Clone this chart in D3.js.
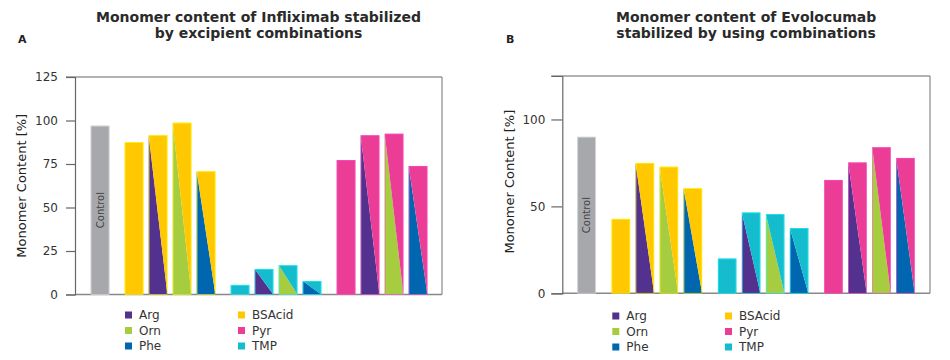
<!DOCTYPE html>
<html>
<head>
<meta charset="utf-8">
<script src="https://cdn.jsdelivr.net/npm/d3@7"></script>
<style>
  body { margin: 0; background: #fff; }
  svg { display: block; font-family: "DejaVu Sans", Verdana, sans-serif; }
</style>
</head>
<body>
<svg id="chart" width="950" height="360"></svg>
<script>
// ---- data ----
const categories = ["Control","BSAcid","Arg+BSAcid","Orn+BSAcid","Phe+BSAcid","TMP","Arg+TMP","Orn+TMP","Phe+TMP","Pyr","Arg+Pyr","Orn+Pyr","Phe+Pyr"];
const groupOf   = [0,1,1,1,1,2,2,2,2,3,3,3,3];
const baseComp  = ["Control","BSAcid","BSAcid","BSAcid","BSAcid","TMP","TMP","TMP","TMP","Pyr","Pyr","Pyr","Pyr"];
const addComp   = [null,null,"Arg","Orn","Phe",null,"Arg","Orn","Phe",null,"Arg","Orn","Phe"];
const valuesInfliximab = [97, 87.5, 91.5, 98.7, 70.8, 5.5, 14.7, 16.8, 7.8, 77.3, 91.5, 92.4, 73.9];
const valuesEvolocumab = [90, 42.8, 75, 72.8, 60.5, 20, 46.5, 45.6, 37.5, 65.2, 75.3, 84, 77.9];
const ticksA = [0, 25, 50, 75, 100, 125];
const ticksB = [0, 50, 100];
const legendCol1 = ["Arg","Orn","Phe"];
const legendCol2 = ["BSAcid","Pyr","TMP"];
const titleA = ["Monomer content of Infliximab stabilized", "by excipient combinations"];
const titleB = ["Monomer content of Evolocumab", "stabilized by using combinations"];

const colors = {
  Control: "#a7a8ab", Arg: "#52318f", Orn: "#a6cd40", Phe: "#0066b0",
  BSAcid: "#ffc800", Pyr: "#eb3d96", TMP: "#15bccd"
};

const svg = d3.select("#chart");

function panel(cfg) {
  const g = svg.append("g");
  const y = d3.scaleLinear().domain([0, 125]).range([cfg.bottom, cfg.top]);
  const step = 24, bw = cfg.bw;
  const pIn = 1 - bw / step;
  const x = d3.scaleBand().domain(categories)
    .range([cfg.barStart, cfg.barStart + step * (categories.length - pIn)])
    .paddingInner(pIn).paddingOuter(0);
  const xPos = (c, i) => x(c) + groupOf[i] * cfg.gap;

  // frame
  g.append("line").attr("x1", cfg.left - cfg.tick).attr("x2", cfg.right)
    .attr("y1", cfg.top).attr("y2", cfg.top).attr("stroke", "#666").attr("stroke-width", 1.2);
  g.append("line").attr("x1", cfg.right).attr("x2", cfg.right)
    .attr("y1", cfg.top).attr("y2", cfg.bottom).attr("stroke", "#888").attr("stroke-width", 1.2);
  g.append("line").attr("x1", cfg.left).attr("x2", cfg.right)
    .attr("y1", cfg.bottom).attr("y2", cfg.bottom).attr("stroke", "#888").attr("stroke-width", 1.4);

  // y axis
  const axis = d3.axisLeft(y).tickValues(cfg.ticks).tickSize(cfg.tick).tickPadding(cfg.tickPad);
  const ag = g.append("g").attr("transform", `translate(${cfg.left},0)`).call(axis);
  ag.select(".domain").attr("stroke", "#666").attr("stroke-width", 1.2);
  ag.selectAll(".tick line").attr("stroke", "#666").attr("stroke-width", 1.2);
  ag.selectAll(".tick text").attr("fill", "#333").style("font-size", "12px")
    .style("font-family", "DejaVu Sans, Verdana, sans-serif");

  // y title
  g.append("text").attr("transform", `translate(${cfg.yTitleX},${(cfg.top + cfg.bottom) / 2 + cfg.yTitleDy}) rotate(-90)`)
    .attr("text-anchor", "middle").attr("dominant-baseline", "central")
    .attr("fill", "#222").style("font-size", "13px").text("Monomer Content [%]");

  // bars
  categories.forEach((c, i) => {
    const v = cfg.values[i];
    const x0 = xPos(c, i), x1 = x0 + x.bandwidth();
    const yt = y(v), yb = y(0);
    const main = colors[baseComp[i]];
    if (addComp[i]) {
      g.append("polygon").attr("points", `${x0},${yt} ${x0},${yb} ${x1},${yb}`)
        .attr("fill", colors[addComp[i]]);
      g.append("polygon").attr("points", `${x0},${yt} ${x1},${yt} ${x1},${yb}`)
        .attr("fill", main);
    } else {
      g.append("rect").attr("x", x0).attr("y", yt).attr("width", x1 - x0).attr("height", yb - yt)
        .attr("fill", main);
    }
    g.append("rect").attr("x", x0 + 0.4).attr("y", yt + 0.4).attr("width", x1 - x0 - 0.8).attr("height", yb - yt - 0.4)
      .attr("fill", "none").attr("stroke", d3.color(main).brighter(0.9)).attr("stroke-width", 0.8).attr("stroke-opacity", 0.7);
    if (c === "Control") {
      g.append("text")
        .attr("transform", `translate(${(x0 + x1) / 2},${(yt + yb) / 2}) rotate(-90)`)
        .attr("text-anchor", "middle").attr("dominant-baseline", "central")
        .attr("fill", "#444").style("font-size", "10px").text("Control");
    }
  });

  // title
  const cx = (cfg.left + cfg.right) / 2;
  cfg.title.forEach((t, k) => {
    g.append("text").attr("x", cx).attr("y", 22 + k * 16).attr("text-anchor", "middle")
      .attr("fill", "#2a2a2a").style("font-size", "14px").style("font-weight", "bold").text(t);
  });
  g.append("text").attr("x", cfg.labelX).attr("y", 43).attr("fill", "#222")
    .style("font-size", "11px").style("font-weight", "bold").text(cfg.label);

  // legend
  [legendCol1, legendCol2].forEach((col, ci) => {
    col.forEach((name, ri) => {
      const ly = cfg.legY + ri * 15.5;
      const lx = cfg.legX + ci * cfg.legColW;
      g.append("rect").attr("x", lx).attr("y", ly - 3.5).attr("width", 7).attr("height", 7)
        .attr("fill", colors[name]);
      g.append("text").attr("x", lx + 14).attr("y", ly).attr("dominant-baseline", "central")
        .attr("fill", "#333").style("font-size", "12px").text(name);
    });
  });
}

panel({
  left: 75, right: 442, top: 77, bottom: 294.5, ticks: ticksA, tick: 9, tickPad: 8,
  barStart: 90.7, bw: 18.7, gap: 10, values: valuesInfliximab,
  yTitleX: 21, yTitleDy: 0, title: titleA, label: "A", labelX: 18,
  legX: 125, legY: 315, legColW: 113
});
panel({
  left: 562.3, right: 930, top: 76, bottom: 293.3, ticks: ticksB, tick: 11, tickPad: 6,
  barStart: 577.3, bw: 18.5, gap: 10.3, values: valuesEvolocumab,
  yTitleX: 509, yTitleDy: -3, title: titleB, label: "B", labelX: 506,
  legX: 612.3, legY: 316, legColW: 112.7
});
</script>
</body>
</html>
